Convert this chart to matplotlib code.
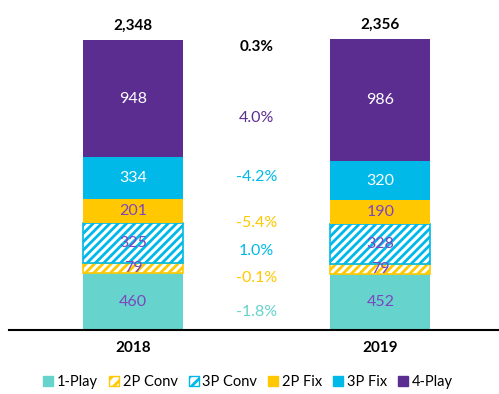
import matplotlib.pyplot as plt
from matplotlib.patches import Patch

plt.rcParams['font.family'] = ['Lato', 'DejaVu Sans']
plt.rcParams['hatch.linewidth'] = 2.0

years = ["2018", "2019"]
segments = ["1-Play", "2P Conv", "3P Conv", "2P Fix", "3P Fix", "4-Play"]
values = {
    "1-Play": [460, 452],
    "2P Conv": [79, 79],
    "3P Conv": [325, 328],
    "2P Fix": [201, 190],
    "3P Fix": [334, 320],
    "4-Play": [948, 986],
}
totals = [2348, 2356]
growth = ["-1.8%", "-0.1%", "1.0%", "-5.4%", "-4.2%", "4.0%"]
total_growth = "0.3%"

purple = "#5C2D91"
cyan = "#00B9E8"
yellow = "#FFC800"
teal = "#66D4CC"
label_purple = "#7B46C0"

colors = {"1-Play": teal, "2P Conv": yellow, "3P Conv": cyan,
          "2P Fix": yellow, "3P Fix": cyan, "4-Play": purple}
hatched = {"2P Conv", "3P Conv"}
text_colors = {"1-Play": label_purple, "2P Conv": label_purple, "3P Conv": label_purple,
               "2P Fix": label_purple, "3P Fix": "white", "4-Play": "white"}
# vertical spots for the growth labels between the bars
growth_y = [146, 421, 640, 866, 1239, 1717]

fig = plt.figure(figsize=(4.99, 3.94), dpi=100)
ax = fig.add_axes([9 / 499, 64 / 394, 490 / 499, 321 / 394])

x = [0, 1]
bottom = [0, 0]
for seg in segments:
    v = values[seg]
    if seg in hatched:
        ax.bar(x, v, width=0.404, bottom=bottom, color="white",
               edgecolor=colors[seg], hatch="////", linewidth=1.2)
    else:
        ax.bar(x, v, width=0.404, bottom=bottom, color=colors[seg], linewidth=0)
    for i in range(2):
        ax.text(x[i], bottom[i] + v[i] / 2, str(v[i]), ha="center", va="center",
                fontsize=11.5, color=text_colors[seg])
    bottom = [bottom[i] + v[i] for i in range(2)]

for i in range(2):
    ax.text(x[i], totals[i] + 60, f"{totals[i]:,}", ha="center",
            va="bottom", fontsize=11, fontweight="bold", color="black")
    ax.text(x[i], -90, years[i], ha="center", va="top", fontsize=11,
            fontweight="bold", color="black")

for seg, g, gy in zip(segments, growth, growth_y):
    ax.text(0.5, gy, g, ha="center", va="center", fontsize=11.5, color=colors[seg])
ax.text(0.5, 2291, total_growth, ha="center", va="center", fontsize=11,
        fontweight="bold", color="black")

ax.set_xlim(-0.501, 1.479)
ax.set_ylim(0, 2600)
for s in ["top", "right", "left"]:
    ax.spines[s].set_visible(False)
ax.spines["bottom"].set_linewidth(1.5)
ax.set_xticks([])
ax.set_yticks([])

handles = []
for seg in segments:
    if seg in hatched:
        handles.append(Patch(facecolor="white", edgecolor=colors[seg], hatch="///"))
    else:
        handles.append(Patch(facecolor=colors[seg], edgecolor=colors[seg]))
fig.legend(handles, segments, loc="center", bbox_to_anchor=(0.497, 12 / 394),
           ncol=6, frameon=False, fontsize=10.5, handlelength=0.7, handleheight=0.7,
           handletextpad=0.25, columnspacing=0.75)

fig.savefig("out.png", dpi=100)
